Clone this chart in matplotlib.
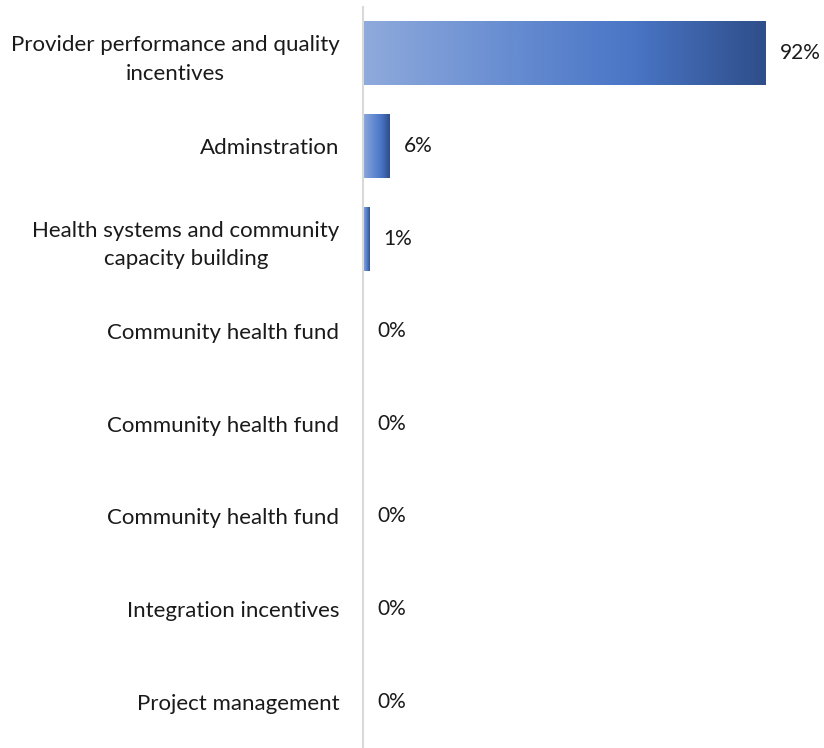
import numpy as np
import matplotlib.pyplot as plt
from matplotlib.colors import LinearSegmentedColormap

categories = ['Provider performance and quality\nincentives',
              'Adminstration',
              'Health systems and community\ncapacity building',
              'Community health fund',
              'Community health fund',
              'Community health fund',
              'Integration incentives',
              'Project management']
values = [92.3, 6.1, 1.4, 0, 0, 0, 0, 0]
labels = ['92%', '6%', '1%', '0%', '0%', '0%', '0%', '0%']

plt.rcParams['font.family'] = ['Lato', 'DejaVu Sans']

grad = LinearSegmentedColormap.from_list('g', ['#8FAADC', '#6A8FD2', '#4A76C6', '#2F4E8A'])

fig = plt.figure(figsize=(8.24, 7.48), dpi=100)
ax = fig.add_axes([363/824, 0, 1 - 363/824, 1 - 7/748])

y = np.arange(len(categories))
bh = 0.69
bars = ax.barh(y, values, height=bh, color='none', edgecolor='none')
g = np.linspace(0, 1, 256).reshape(1, -1)
for b, v in zip(bars, values):
    if v <= 0:
        continue
    x0, y0 = b.get_x(), b.get_y()
    ax.imshow(g, cmap=grad, aspect='auto', interpolation='bicubic',
              extent=[x0, x0 + b.get_width(), y0 + b.get_height(), y0], zorder=2)

for yi, v, lab in zip(y, values, labels):
    ax.annotate(lab, (v, yi), xytext=(10, 0), textcoords='offset points',
                ha='left', va='center', fontsize=15, color='#1a1a1a')

ax.set_xlim(0, 92.3 * 461 / 403)
ax.set_ylim(len(categories) - 0.5, -0.5)
ax.set_yticks(y)
ax.set_yticklabels(categories, fontsize=16, color='#1a1a1a',
                   multialignment='center', linespacing=1.55)
ax.tick_params(axis='y', length=0, pad=17)
ax.set_xticks([])
for s in ['top', 'right', 'bottom']:
    ax.spines[s].set_visible(False)
ax.spines['left'].set_color('#D9D9D9')
ax.spines['left'].set_linewidth(1.5)

plt.savefig('out.png')
